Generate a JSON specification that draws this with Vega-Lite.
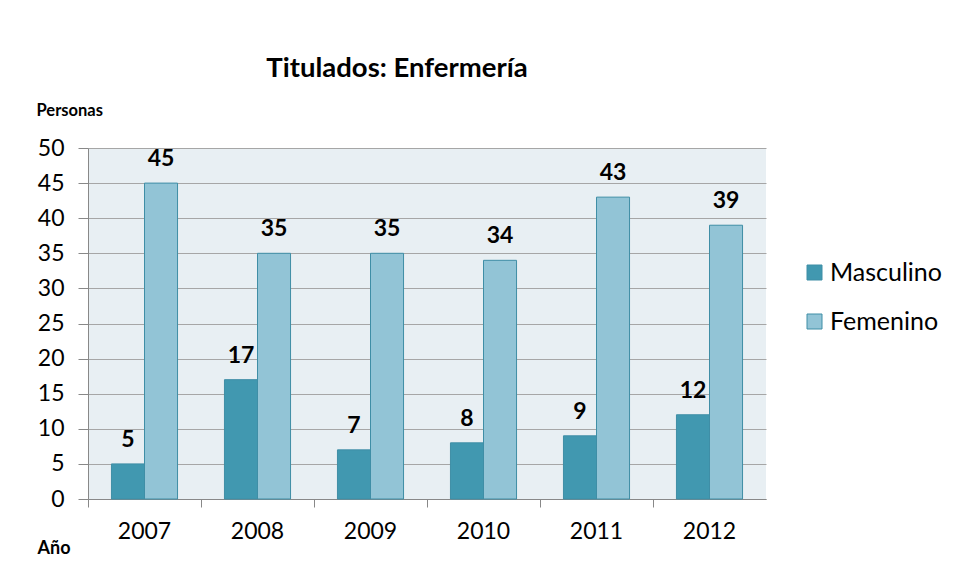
{
  "$schema": "https://vega.github.io/schema/vega-lite/v6.json",
  "autosize": {"type": "none"},
  "width": 678,
  "height": 351,
  "padding": {"left": 88, "top": 148, "right": 192, "bottom": 81},
  "background": "#ffffff",
  "config": {
    "font": "Lato",
    "view": {"stroke": null, "fill": "#E8EFF3"}
  },
  "title": {
    "text": "Titulados: Enfermería",
    "font": "Lato",
    "fontSize": 27.5,
    "fontWeight": "bold",
    "color": "#000000",
    "anchor": "middle",
    "dx": -30,
    "baseline": "alphabetic",
    "offset": -2
  },
  "data": {
    "values": [
      {"year": "2007", "sexo": "Masculino", "n": 5},
      {"year": "2007", "sexo": "Femenino", "n": 45},
      {"year": "2008", "sexo": "Masculino", "n": 17},
      {"year": "2008", "sexo": "Femenino", "n": 35},
      {"year": "2009", "sexo": "Masculino", "n": 7},
      {"year": "2009", "sexo": "Femenino", "n": 35},
      {"year": "2010", "sexo": "Masculino", "n": 8},
      {"year": "2010", "sexo": "Femenino", "n": 34},
      {"year": "2011", "sexo": "Masculino", "n": 9},
      {"year": "2011", "sexo": "Femenino", "n": 43},
      {"year": "2012", "sexo": "Masculino", "n": 12},
      {"year": "2012", "sexo": "Femenino", "n": 39}
    ]
  },
  "encoding": {
    "x": {
      "field": "year",
      "type": "nominal",
      "scale": {"paddingInner": 0, "paddingOuter": 0},
      "axis": {
        "title": "Año",
        "titleFont": "Lato",
        "titleFontSize": 18,
        "titleFontWeight": "bold",
        "titleColor": "#000000",
        "titleAngle": 0,
        "titleAlign": "left",
        "titleBaseline": "alphabetic",
        "titleX": -51,
        "titleY": 54,
        "labelAngle": 0,
        "labelFontSize": 23,
        "labelColor": "#000000",
        "labelPadding": 13,
        "bandPosition": 0,
        "tickSize": 8,
        "tickColor": "#888888",
        "domainColor": "#888888",
        "grid": false
      }
    },
    "xOffset": {
      "field": "sexo",
      "type": "nominal",
      "sort": ["Masculino", "Femenino"],
      "scale": {"paddingInner": 0, "paddingOuter": 0.71}
    },
    "y": {
      "field": "n",
      "type": "quantitative",
      "scale": {"domain": [0, 50]},
      "axis": {
        "title": "Personas",
        "titleFont": "Lato",
        "titleFontSize": 16.5,
        "titleFontWeight": "bold",
        "titleColor": "#000000",
        "titleAngle": 0,
        "titleAlign": "left",
        "titleBaseline": "middle",
        "titleX": -52,
        "titleY": -38,
        "values": [0, 5, 10, 15, 20, 25, 30, 35, 40, 45, 50],
        "labelOverlap": false,
        "labelFontSize": 23,
        "labelColor": "#000000",
        "labelPadding": 14,
        "tickSize": 10,
        "tickColor": "#888888",
        "domainColor": "#888888",
        "gridColor": "#A6A6A6",
        "gridWidth": 1
      }
    }
  },
  "layer": [
    {
      "mark": {"type": "bar", "stroke": "#3f8ea6", "strokeWidth": 1},
      "encoding": {
        "color": {
          "field": "sexo",
          "type": "nominal",
          "sort": ["Masculino", "Femenino"],
          "scale": {"domain": ["Masculino", "Femenino"], "range": ["#4198B0", "#92C4D6"]},
          "legend": {
            "title": null,
            "orient": "none",
            "legendX": 714,
            "legendY": 112,
            "symbolType": "square",
            "symbolSize": 225,
            "symbolStrokeColor": "#3f8ea6",
            "symbolStrokeWidth": 1,
            "labelFontSize": 25,
            "labelColor": "#000000",
            "labelOffset": 3,
            "rowPadding": 23
          }
        }
      }
    },
    {
      "mark": {"type": "text", "fontSize": 23, "fontWeight": "bold", "baseline": "alphabetic", "dy": -17, "color": "#000000"},
      "encoding": {
        "text": {"field": "n", "type": "quantitative"}
      }
    }
  ]
}
